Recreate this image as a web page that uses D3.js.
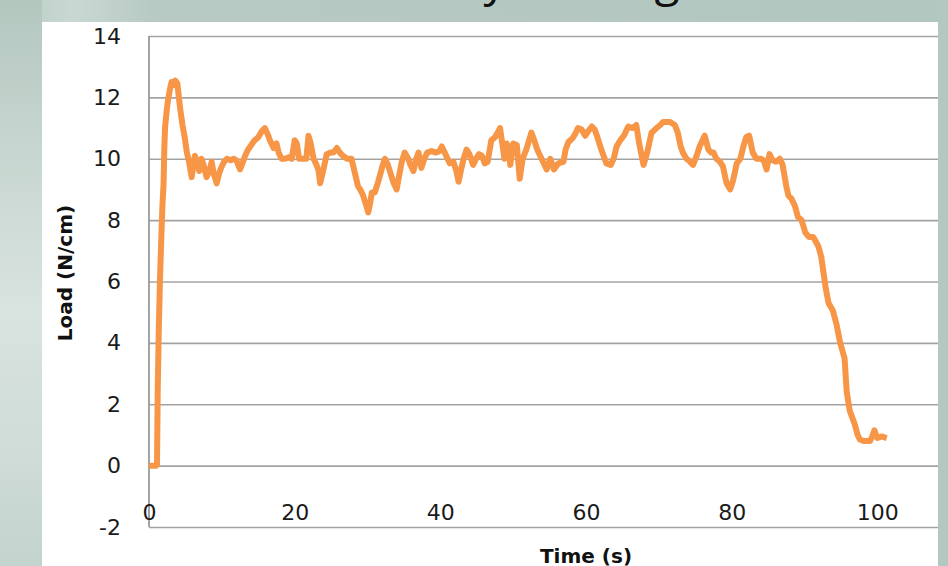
<!DOCTYPE html>
<html><head><meta charset="utf-8">
<script src="https://cdn.jsdelivr.net/npm/d3@7"></script>
<style>html,body{margin:0;padding:0;overflow:hidden;background:#b3c8c0}</style>
</head><body>
<svg id="c" width="948" height="566"></svg>
<script>
const titleText = "Load Curve by Tearing";
const xTitle = "Time (s)";
const yTitle = "Load (N/cm)";
const xTicks = [0, 20, 40, 60, 80, 100];
const yTicks = [-2, 0, 2, 4, 6, 8, 10, 12, 14];

const timeS = [0.0,0.5,1.0,1.1,1.2,1.35,1.5,1.7,1.85,2.0,2.1,2.2,2.4,2.6,2.9,3.1,3.4,3.6,3.9,4.1,4.3,4.6,4.9,5.2,5.5,5.86,6.1,6.3,6.6,6.9,7.2,7.5,7.9,8.3,8.6,8.9,9.3,9.6,9.9,10.3,10.7,11.2,11.6,12.0,12.5,12.9,13.2,13.6,13.9,14.5,15.0,15.5,15.9,16.3,16.6,17.1,17.5,17.8,18.2,18.7,19.2,19.6,20.0,20.3,20.6,21.0,21.6,21.9,22.2,22.6,23.0,23.3,23.5,23.9,24.4,24.9,25.3,25.8,26.2,26.6,27.2,27.8,28.2,28.7,29.0,29.4,29.8,30.1,30.4,30.6,31.0,31.4,31.7,32.1,32.4,32.8,33.2,33.6,34.0,34.3,34.7,35.1,35.6,35.9,36.3,36.7,37.0,37.4,37.8,38.2,38.8,39.4,39.9,40.2,40.6,41.0,41.3,41.8,42.2,42.5,42.9,43.2,43.6,44.0,44.5,44.9,45.3,45.7,46.1,46.5,47.0,47.5,48.0,48.2,48.5,48.8,49.1,49.4,49.6,50.0,50.5,50.9,51.3,51.8,52.5,52.9,53.3,53.7,54.1,54.6,55.1,55.6,56.2,56.9,57.2,57.6,58.1,58.5,58.9,59.4,59.9,60.3,60.8,61.2,61.5,62.1,62.8,63.4,63.8,64.2,64.7,65.2,65.8,66.4,66.9,67.3,67.9,68.4,69.0,69.7,70.2,70.6,71.5,72.2,72.6,73.0,73.3,73.8,74.3,74.7,75.2,75.6,76.0,76.3,76.8,77.2,77.5,77.9,78.4,78.8,79.3,79.8,80.2,80.7,81.2,81.6,82.0,82.4,82.9,83.4,84.0,84.4,84.8,85.2,85.6,86.1,86.6,87.0,87.5,87.8,88.2,88.7,89.1,89.6,90.1,90.6,91.2,91.9,92.3,92.6,92.9,93.3,93.9,94.4,94.9,95.5,95.8,96.2,96.5,96.9,97.3,97.6,98.2,99.0,99.3,99.6,100.0,100.6,101.3];
const loadNcm = [0,0,0,0.05,2.5,4.5,6.0,7.5,8.5,9.2,10.3,11.0,11.5,11.9,12.3,12.5,12.4,12.55,12.45,12.0,11.6,11.1,10.7,10.2,9.9,9.4,9.8,10.1,9.9,9.6,10.0,9.8,9.4,9.6,9.9,9.5,9.2,9.5,9.7,9.9,10.0,9.95,10.0,9.95,9.65,9.9,10.1,10.3,10.4,10.6,10.7,10.9,11.0,10.8,10.6,10.35,10.5,10.2,10.0,10.0,10.05,10.0,10.6,10.5,10.0,10.0,10.0,10.75,10.5,10.0,9.8,9.6,9.2,9.6,10.15,10.2,10.2,10.35,10.2,10.1,10.0,10.0,9.6,9.1,9.0,8.8,8.5,8.25,8.6,8.9,8.9,9.2,9.45,9.8,10.0,9.8,9.5,9.2,9.0,9.4,9.9,10.2,10.0,9.8,9.6,10.0,10.2,9.7,10.0,10.2,10.25,10.2,10.25,10.4,10.2,10.0,9.85,9.9,9.6,9.25,9.7,10.0,10.3,10.15,9.8,10.0,10.15,10.1,9.85,9.9,10.6,10.7,10.9,11.0,10.5,10.0,10.5,10.3,9.8,10.5,10.45,9.35,10.0,10.3,10.85,10.6,10.3,10.1,9.9,9.65,10.0,9.65,9.85,9.9,10.3,10.55,10.65,10.8,11.0,10.95,10.75,10.9,11.05,10.95,10.75,10.3,9.85,9.8,10.0,10.4,10.6,10.75,11.05,11.0,11.1,10.5,9.8,10.2,10.85,11.0,11.1,11.2,11.2,11.1,10.85,10.4,10.2,10.0,9.9,9.8,10.1,10.4,10.6,10.75,10.3,10.2,10.2,10.0,9.9,9.75,9.2,9.0,9.3,9.85,10.0,10.4,10.7,10.75,10.2,10.0,10.0,9.95,9.65,10.15,9.95,9.9,10.0,9.8,9.1,8.8,8.7,8.45,8.1,8.0,7.6,7.45,7.45,7.15,6.8,6.3,5.8,5.3,5.05,4.6,4.0,3.5,2.4,1.8,1.6,1.35,1.0,0.85,0.8,0.8,0.95,1.15,0.9,0.95,0.9];

const svg = d3.select("#c");
const defs = svg.append("defs");
const lg = defs.append("linearGradient").attr("id","leftg").attr("x1",0).attr("y1",0).attr("x2",0).attr("y2",1);
[[0,"#b3c7bf"],[0.25,"#c6d5cf"],[0.55,"#d9e3df"],[0.8,"#cfdcd7"],[1,"#c3d3cd"]].forEach(s=>lg.append("stop").attr("offset",s[0]).attr("stop-color",s[1]));
const tg = defs.append("linearGradient").attr("id","topg").attr("x1",0).attr("y1",0).attr("x2",1).attr("y2",0);
[[0,"#b9ccc5"],[0.08,"#c9d8d2"],[0.16,"#b7cac3"],[1,"#b2c7bf"]].forEach(s=>tg.append("stop").attr("offset",s[0]).attr("stop-color",s[1]));

svg.append("rect").attr("width",948).attr("height",566).attr("fill","url(#topg)");
svg.append("rect").attr("x",0).attr("y",0).attr("width",42).attr("height",566).attr("fill","url(#leftg)");

// partially visible slide title (cut off by the top edge, as in the reference)
const tt = svg.append("text").attr("x",0).attr("y",-3)
  .style("font-family","'Open Sans', sans-serif").style("font-size","44px")
  .attr("fill","#111").text(titleText);
(function(){
  const iy = titleText.indexOf("y"), ig = titleText.lastIndexOf("g");
  const c = i => { const e = tt.node().getExtentOfChar(i); return e.x + e.width/2; };
  let d = c(ig) - c(iy);
  let fs = 44 * 172 / d;
  tt.style("font-size", fs + "px");
  tt.attr("y", 7 - 0.245*fs);
  tt.attr("x", 0);
  tt.attr("x", 495 - c(iy));
})();

// chart area
svg.append("rect").attr("x",42).attr("y",22).attr("width",896).attr("height",560).attr("fill","#fff");

const x = d3.scaleLinear().domain([0,120]).range([149,1023]);
const y = d3.scaleLinear().domain([-2,14]).range([527,36]);
const right = 938;

const grid = svg.append("g").attr("transform","translate(149,0)")
  .call(d3.axisRight(y).tickValues(yTicks).tickSize(right-149).tickFormat(""));
grid.select(".domain").remove();
grid.selectAll("line").attr("stroke","#a3a3a3").attr("stroke-width",1.7);

svg.append("line").attr("x1",149).attr("x2",149).attr("y1",y(14)).attr("y2",y(-2))
  .attr("stroke","#9a9a9a").attr("stroke-width",1.8);

const ya = svg.append("g").attr("transform","translate(149,0)")
  .call(d3.axisLeft(y).tickValues(yTicks).tickSize(0).tickPadding(28).tickFormat(d => String(d)));
ya.select(".domain").remove();
ya.selectAll("text").style("font-family","'DejaVu Sans', sans-serif").style("font-size","22px").attr("fill","#1a1a1a");

const xa = svg.append("g").attr("transform","translate(0,504)")
  .call(d3.axisBottom(x).tickValues(xTicks).tickSize(0).tickPadding(0).tickFormat(d => String(d)));
xa.select(".domain").remove();
xa.selectAll("text").style("font-family","'DejaVu Sans', sans-serif").style("font-size","22px").attr("fill","#1a1a1a");

const data = timeS.map((t,i)=>({t, v: loadNcm[i]}));
svg.append("path").datum(data)
  .attr("fill","none").attr("stroke","#f79646").attr("stroke-width",6)
  .attr("stroke-linejoin","round")
  .attr("d", d3.line().x(d=>x(d.t)).y(d=>y(d.v)));

svg.append("text").attr("x",586).attr("y",562.5).attr("text-anchor","middle")
  .style("font-family","'DejaVu Sans', sans-serif").style("font-size","20px").style("font-weight","bold")
  .attr("fill","#111").text(xTitle);
svg.append("text").attr("transform","translate(72,273) rotate(-90)").attr("text-anchor","middle")
  .style("font-family","'DejaVu Sans', sans-serif").style("font-size","20px").style("font-weight","bold")
  .attr("fill","#111").text(yTitle);

svg.append("rect").attr("x",right).attr("y",0).attr("width",948-right).attr("height",566).attr("fill","#b3c8c0");
</script>
</body></html>
